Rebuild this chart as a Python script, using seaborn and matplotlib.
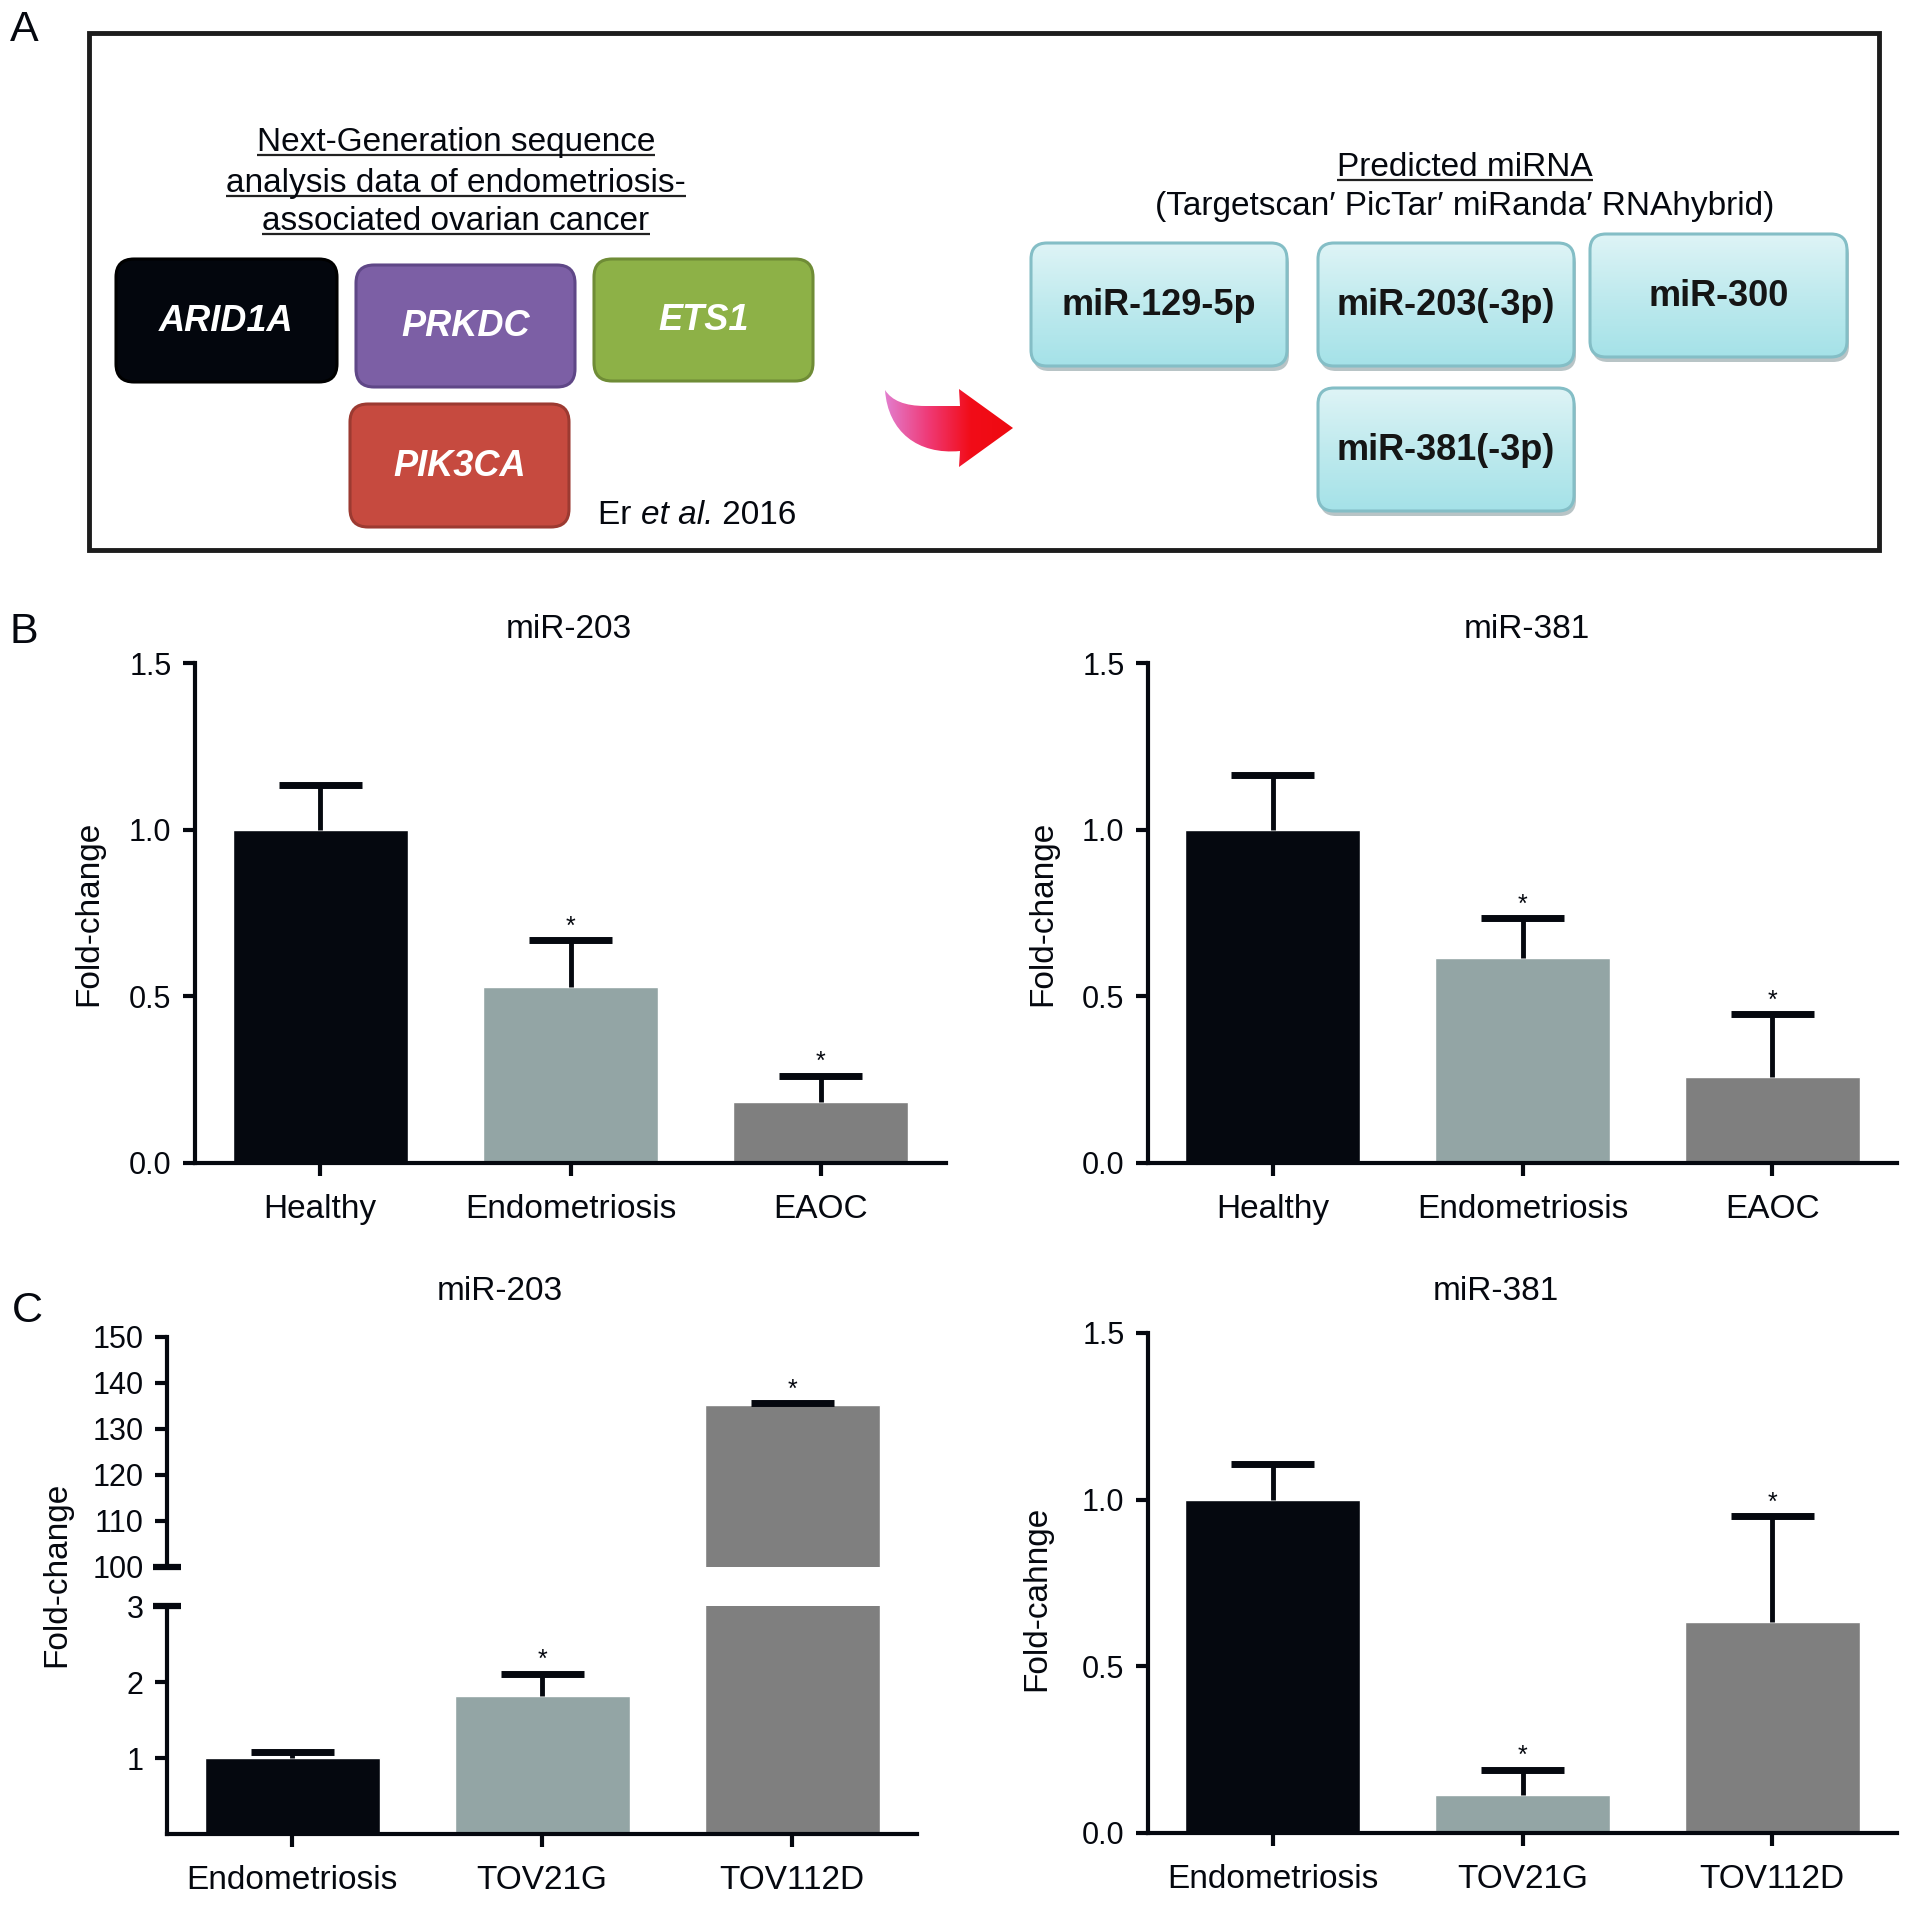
from pathlib import Path

import matplotlib

matplotlib.use("Agg")

import matplotlib.pyplot as plt
import numpy as np
import seaborn as sns
from matplotlib.colors import LinearSegmentedColormap
from matplotlib.patches import FancyBboxPatch, PathPatch, Rectangle
from matplotlib.path import Path as MPath


OUT_PATH = Path("out.png")
W, H = 1913, 1905
FS = 24

# panel A content
NGS_TITLE = [
    "Next-Generation sequence",
    "analysis data of endometriosis-",
    "associated ovarian cancer",
]
GENES = ["ARID1A", "PRKDC", "ETS1", "PIK3CA"]
GENE_COLORS = ["#03060d", "#7c5fa5", "#8db147", "#c64a3f"]
GENE_EDGES = ["#000000", "#5f4787", "#6f8c36", "#9c3a31"]
CITATION = [("Er ", "normal"), ("et al.", "italic"), (" 2016", "normal")]
PRED_TITLE = "Predicted miRNA"
PRED_TOOLS = "(Targetscan\u2032 PicTar\u2032 miRanda\u2032 RNAhybrid)"
MIRNAS = ["miR-129-5p", "miR-203(-3p)", "miR-300", "miR-381(-3p)"]

# panel B / C data (fold-change, mean and upper error)
B_GROUPS = ["Healthy", "Endometriosis", "EAOC"]
B_MIR203_MEAN = [1.0, 0.528, 0.184]
B_MIR203_ERR = [0.133, 0.140, 0.078]
B_MIR381_MEAN = [1.0, 0.614, 0.258]
B_MIR381_ERR = [0.165, 0.121, 0.189]
B_SIG = [False, True, True]

C_GROUPS = ["Endometriosis", "TOV21G", "TOV112D"]
C_MIR203_MEAN = [1.0, 1.81, 135.2]
C_MIR203_ERR = [0.08, 0.30, 0.4]
C_MIR381_MEAN = [1.0, 0.114, 0.634]
C_MIR381_ERR = [0.108, 0.076, 0.316]
C_SIG = [False, True, True]

BAR_COLORS = ["#05080f", "#93a5a5", "#7f7f7f"]
INK = "#05080f"

# layout in pixels (x0, y0, x1, y1), y measured from the top
GENE_BOXES = [(116, 259, 337, 382), (356, 265, 575, 387), (594, 259, 813, 381), (350, 404, 569, 527)]
MIRNA_BOXES = [(1031, 243, 1287, 366), (1318, 243, 1574, 366), (1590, 234, 1847, 357), (1318, 388, 1574, 511)]


def px_axes(fig, x0, y0, x1, y1):
    return fig.add_axes([x0 / W, 1 - y1 / H, (x1 - x0) / W, (y1 - y0) / H])


def lock(ov):
    ov.set_xlim(0, W)
    ov.set_ylim(H, 0)


def rounded(ax, box, fc, ec, lw=2.0, r=16, z=2):
    x0, y0, x1, y1 = box
    patch = FancyBboxPatch(
        (x0, y0), x1 - x0, y1 - y0,
        boxstyle=f"round,pad=0,rounding_size={r}",
        fc=fc, ec=ec, lw=lw, zorder=z,
    )
    ax.add_patch(patch)
    return patch


def draw_arrow(ax):
    verts = [
        (885, 390), (895, 406), (925, 406),
        (960, 406), (959, 389), (1013, 428), (959, 467), (960, 451),
        (918, 455), (888, 432), (885, 390),
        (885, 390),
    ]
    codes = [
        MPath.MOVETO, MPath.CURVE3, MPath.CURVE3,
        MPath.LINETO, MPath.LINETO, MPath.LINETO, MPath.LINETO, MPath.LINETO,
        MPath.CURVE4, MPath.CURVE4, MPath.CURVE4,
        MPath.CLOSEPOLY,
    ]
    patch = PathPatch(MPath(verts, codes), fc="none", ec="none", zorder=3)
    ax.add_patch(patch)
    cmap = LinearSegmentedColormap.from_list("arrow", ["#e27fd0", "#ef3b78", "#f20c18", "#ee0a10"])
    im = ax.imshow(
        np.linspace(0, 1, 200).reshape(1, -1), cmap=cmap, aspect="auto",
        extent=[884, 1014, 468, 388], zorder=3,
    )
    im.set_clip_path(patch)


def draw_panel_a(fig, ov):
    ov.add_patch(Rectangle((89, 33), 1790, 517, fill=False, ec="#1c1c1c", lw=3.5, zorder=1))

    under = []
    for line, base in zip(NGS_TITLE, [151, 192, 230]):
        under.append((ov.text(456, base, line, ha="center", va="baseline", fontsize=FS), base + 4))

    for name, box, fc, ec in zip(GENES, GENE_BOXES, GENE_COLORS, GENE_EDGES):
        rounded(ov, box, fc, ec, lw=2.2, r=18)
        ov.text((box[0] + box[2]) / 2, (box[1] + box[3]) / 2 + 1, name, ha="center", va="center",
                color="white", fontsize=26, fontweight="bold", fontstyle="italic", zorder=4)

    draw_arrow(ov)

    under.append((ov.text(1465, 176, PRED_TITLE, ha="center", va="baseline", fontsize=FS), 180))
    ov.text(1465, 215, PRED_TOOLS, ha="center", va="baseline", fontsize=FS,
            family=["Liberation Sans", "DejaVu Sans"])

    cmap = LinearSegmentedColormap.from_list("cyan", ["#def4f6", "#bfeaee", "#a5e2e8"])
    for name, box in zip(MIRNAS, MIRNA_BOXES):
        x0, y0, x1, y1 = box
        rounded(ov, (x0 + 2, y0 + 5, x1 + 2, y1 + 5), "#b8c4c6", "none", lw=0, r=16, z=1)
        edge = rounded(ov, box, "none", "#84bec6", lw=2.2, r=16, z=3)
        im = ov.imshow(np.linspace(0, 1, 100).reshape(-1, 1), cmap=cmap, aspect="auto",
                       extent=[x0, x1, y1, y0], zorder=2)
        im.set_clip_path(edge)
        ov.text((x0 + x1) / 2, (y0 + y1) / 2 + 1, name, ha="center", va="center",
                color="#151515", fontsize=26, fontweight="bold", zorder=4)

    lock(ov)
    fig.canvas.draw()
    renderer = fig.canvas.get_renderer()
    inv = ov.transData.inverted()

    # underline the two headings
    for txt, y in under:
        bb = txt.get_window_extent(renderer)
        xa = inv.transform((bb.x0, bb.y0))[0]
        xb = inv.transform((bb.x1, bb.y0))[0]
        ov.plot([xa, xb], [y, y], color="#222222", lw=1.6, solid_capstyle="butt")

    # citation with italic "et al."
    x = 598
    for piece, style in CITATION:
        t = ov.text(x, 524, piece, ha="left", va="baseline", fontsize=FS, fontstyle=style)
        bb = t.get_window_extent(renderer)
        x = inv.transform((bb.x1, bb.y0))[0]
    lock(ov)


def style_axes(ax, bottom=True):
    sns.despine(ax=ax)
    for side in ["left", "bottom"]:
        ax.spines[side].set_linewidth(3)
        ax.spines[side].set_color(INK)
    ax.tick_params(axis="y", labelsize=22, length=9, width=3, pad=8, color=INK)
    ax.tick_params(axis="x", labelsize=FS, length=9, width=3, pad=13, color=INK)
    if not bottom:
        ax.spines["bottom"].set_visible(False)
        ax.tick_params(axis="x", bottom=False, labelbottom=False)
    ax.set_xlabel("")
    ax.set_ylabel("")
    ax.set_facecolor("none")


def bar_panel(ax, groups, means, errs, sig, ylim, yticks, ticklabels=None, bottom=True):
    sns.barplot(x=groups, y=means, hue=groups, palette=BAR_COLORS, width=0.7,
                saturation=1, legend=False, ax=ax, zorder=2)
    xs = np.arange(len(groups))
    tops = np.asarray(means) + np.asarray(errs)
    # upper error bars only: stem from the bar top, cap above
    ax.vlines(xs, means, tops, color=INK, lw=3.5, zorder=3)
    ax.hlines(tops, xs - 0.166, xs + 0.166, color=INK, lw=5, zorder=3)
    lo, hi = ylim
    for i, (top, s) in enumerate(zip(tops, sig)):
        if s and lo <= top <= hi:
            ax.annotate("*", xy=(i, top), xytext=(0, 1), textcoords="offset points",
                        ha="center", va="bottom", fontsize=18, color=INK)
    ax.set_xlim(-0.5, 2.5)
    ax.set_ylim(lo, hi)
    ax.set_yticks(yticks)
    if ticklabels is not None:
        ax.set_yticklabels(ticklabels)
    style_axes(ax, bottom=bottom)


def main():
    sns.set_theme(style="ticks")
    plt.rcParams["font.family"] = ["Liberation Sans", "DejaVu Sans"]
    plt.rcParams.update({
        "text.color": INK,
        "xtick.color": INK,
        "ytick.color": INK,
    })

    fig = plt.figure(figsize=(W / 100, H / 100), dpi=100)
    fig.patch.set_facecolor("white")

    ov = fig.add_axes([0, 0, 1, 1], zorder=0)
    ov.set_axis_off()
    lock(ov)

    ov.text(24, 30, "A", ha="center", va="center", fontsize=31)
    ov.text(24, 632, "B", ha="center", va="center", fontsize=31)
    ov.text(27, 1311, "C", ha="center", va="center", fontsize=31)

    ticks15 = [0, 0.5, 1.0, 1.5]
    labels15 = ["0.0", "0.5", "1.0", "1.5"]

    # panel B
    ax = px_axes(fig, 195, 663, 946, 1163)
    bar_panel(ax, B_GROUPS, B_MIR203_MEAN, B_MIR203_ERR, B_SIG, (0, 1.5), ticks15, labels15)
    ax = px_axes(fig, 1148, 663, 1897, 1163)
    bar_panel(ax, B_GROUPS, B_MIR381_MEAN, B_MIR381_ERR, B_SIG, (0, 1.5), ticks15, labels15)

    # panel C, miR-203 with broken axis
    up = px_axes(fig, 167, 1337, 917, 1567)
    bar_panel(up, C_GROUPS, C_MIR203_MEAN, C_MIR203_ERR, C_SIG, (100, 150),
              [100, 110, 120, 130, 140, 150], bottom=False)
    low = px_axes(fig, 167, 1606, 917, 1834)
    bar_panel(low, C_GROUPS, C_MIR203_MEAN, C_MIR203_ERR, C_SIG, (0, 3), [1, 2, 3])
    for a, yy in [(up, 0), (low, 1)]:
        a.plot([-14 / 750, 14 / 750], [yy, yy], transform=a.transAxes, color=INK,
               lw=4.5, clip_on=False, solid_capstyle="butt")

    ax = px_axes(fig, 1148, 1333, 1897, 1833)
    bar_panel(ax, C_GROUPS, C_MIR381_MEAN, C_MIR381_ERR, C_SIG, (0, 1.5), ticks15, labels15)

    # titles and axis labels
    for x, y, t in [(569, 629, "miR-203"), (1527, 629, "miR-381"),
                    (500, 1292, "miR-203"), (1496, 1292, "miR-381")]:
        ov.text(x, y, t, ha="center", va="center", fontsize=FS)
    for x, y, t in [(89, 913, "Fold-change"), (1043, 913, "Fold-change"),
                    (57, 1574, "Fold-change"), (1037, 1598, "Fold-cahnge")]:
        ov.text(x, y, t, ha="center", va="center", fontsize=FS, rotation=90)

    draw_panel_a(fig, ov)

    fig.savefig(OUT_PATH, dpi=100, facecolor="white")
    plt.close(fig)


if __name__ == "__main__":
    main()
